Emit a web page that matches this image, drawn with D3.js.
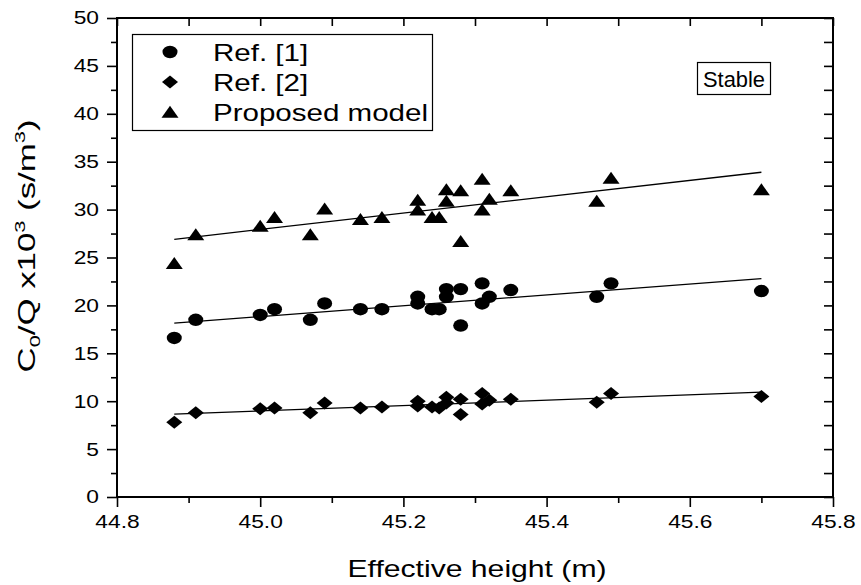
<!DOCTYPE html>
<html>
<head>
<meta charset="utf-8">
<script src="https://cdn.jsdelivr.net/npm/d3@7"></script>
<style>
    body { margin: 0; background: #fff; }
    text { font-family: "Liberation Sans", Arial, sans-serif; fill: #000; }
</style>
</head>
<body>
<div class="chart"></div>
<script>
// effective height (m), shared by the three series
const heights = [44.88, 44.91, 45.00, 45.02, 45.07, 45.09, 45.14, 45.17, 45.22, 45.22, 45.24, 45.25,
    45.26, 45.26, 45.28, 45.28, 45.31, 45.31, 45.32, 45.35, 45.47, 45.49, 45.70];
// C0/Q x10^3 (s/m^3)
const ref1 = [16.6, 18.5, 19.0, 19.6, 18.5, 20.2, 19.6, 19.6, 20.9, 20.2, 19.6, 19.6,
    21.7, 20.9, 21.7, 17.9, 22.3, 20.2, 20.9, 21.6, 20.9, 22.3, 21.5];
const ref2 = [7.8, 8.8, 9.2, 9.3, 8.8, 9.8, 9.3, 9.4, 10.0, 9.5, 9.4, 9.3,
    10.4, 9.8, 10.2, 8.6, 10.8, 9.7, 10.1, 10.2, 9.9, 10.8, 10.5];
const proposed = [24.4, 27.4, 28.3, 29.2, 27.4, 30.1, 29.0, 29.2, 31.0, 30.0, 29.2, 29.2,
    32.1, 30.9, 32.0, 26.7, 33.2, 30.0, 31.1, 32.0, 30.9, 33.3, 32.1];

// linear fit lines, end points
const fitX = [44.88, 45.70];
const fitRef1 = [18.15, 22.8];
const fitRef2 = [8.65, 10.95];
const fitProposed = [26.9, 33.9];

const seriesNames = ["Ref. [1]", "Ref. [2]", "Proposed model"];
const xTicks = [44.8, 45.0, 45.2, 45.4, 45.6, 45.8];
const xMinor = [44.9, 45.1, 45.3, 45.5, 45.7];
const yTicks = [0, 5, 10, 15, 20, 25, 30, 35, 40, 45, 50];
const yMinor = [2.5, 7.5, 12.5, 17.5, 22.5, 27.5, 32.5, 37.5, 42.5, 47.5];

const width = 861;
const height = 585;
const stretch = 1.23; // the lettering in the original is drawn wide

const x = d3.scaleLinear().domain([44.8, 45.8]).range([117, 833]);
const y = d3.scaleLinear().domain([0, 50]).range([497, 18]);

const svg = d3.select(".chart")
    .append("svg")
    .attr("width", width)
    .attr("height", height);

// markers, a bit wider than tall like the original
const shapes = {
    circle: "M-7.5,0A7.5,6.2 0 1,0 7.5,0A7.5,6.2 0 1,0 -7.5,0Z",
    diamond: "M-8,0L0,-6.5L8,0L0,6.5Z",
    triangle: "M-8.5,5.8L8.5,5.8L0,-6.2Z"
};

const series = [
    { name: seriesNames[0], values: ref1, fit: fitRef1, shape: "circle" },
    { name: seriesNames[1], values: ref2, fit: fitRef2, shape: "diamond" },
    { name: seriesNames[2], values: proposed, fit: fitProposed, shape: "triangle" }
];

// axes: outward ticks on left/bottom, mirrored ticks inside on top/right
const axisG = svg.append("g").attr("class", "axes");

axisG.append("g")
    .attr("transform", `translate(0,${y(0)})`)
    .call(d3.axisBottom(x).tickValues(xTicks).tickSize(10).tickPadding(8).tickFormat(d3.format(".1f")));
axisG.append("g")
    .attr("transform", `translate(0,${y(0)})`)
    .call(d3.axisBottom(x).tickValues(xMinor).tickSize(6).tickFormat(""));
axisG.append("g")
    .attr("transform", `translate(0,${y(50)})`)
    .call(d3.axisBottom(x).tickValues(xTicks.concat(xMinor)).tickSize(8).tickFormat(""));

axisG.append("g")
    .attr("transform", `translate(${x(44.8)},0)`)
    .call(d3.axisLeft(y).tickValues(yTicks).tickSize(10).tickPadding(8).tickFormat(d3.format("d")));
axisG.append("g")
    .attr("transform", `translate(${x(44.8)},0)`)
    .call(d3.axisLeft(y).tickValues(yMinor).tickSize(6).tickFormat(""));
axisG.append("g")
    .attr("transform", `translate(${x(45.8)},0)`)
    .call(d3.axisLeft(y).tickValues(yTicks.concat(yMinor)).tickSize(9).tickFormat(""));

axisG.selectAll(".domain").remove();
axisG.selectAll(".tick line").attr("stroke", "#000").attr("stroke-width", 1.6);
axisG.selectAll(".tick text")
    .attr("fill", "#000")
    .style("font-size", "18.5px")
    .style("font-family", '"Liberation Sans", Arial, sans-serif');

svg.append("rect")
    .attr("x", x(44.8))
    .attr("y", y(50))
    .attr("width", x(45.8) - x(44.8))
    .attr("height", y(0) - y(50))
    .attr("fill", "none")
    .attr("stroke", "#000")
    .attr("stroke-width", 2);

// fit lines
const line = d3.line().x(d => x(d[0])).y(d => y(d[1]));
svg.append("g").selectAll("path")
    .data(series)
    .enter().append("path")
    .attr("d", s => line(fitX.map((v, i) => [v, s.fit[i]])))
    .attr("fill", "none")
    .attr("stroke", "#000")
    .attr("stroke-width", 1.3);

// points
series.forEach(s => {
    svg.append("g").selectAll("path")
        .data(heights.map((h, i) => [h, s.values[i]]))
        .enter().append("path")
        .attr("transform", d => `translate(${x(d[0])},${y(d[1])})`)
        .attr("d", shapes[s.shape])
        .attr("fill", "#000");
});

// legend
const legend = svg.append("g").attr("class", "legend");
legend.append("rect")
    .attr("x", 132.5)
    .attr("y", 34.5)
    .attr("width", 300)
    .attr("height", 96)
    .attr("fill", "#fff")
    .attr("stroke", "#000")
    .attr("stroke-width", 1.2);

const item = legend.selectAll(".legend-item")
    .data(series)
    .enter().append("g")
    .attr("class", "legend-item")
    .attr("transform", (d, i) => `translate(170, ${[52, 82, 112][i]})`);

item.append("path")
    .attr("d", d => shapes[d.shape])
    .attr("fill", "#000");

item.append("text")
    .attr("x", 43)
    .attr("y", 9)
    .style("font-size", "24px")
    .text(d => d.name);

// "Stable" label
svg.append("rect")
    .attr("x", 697.5)
    .attr("y", 62.5)
    .attr("width", 73)
    .attr("height", 32)
    .attr("fill", "#fff")
    .attr("stroke", "#000")
    .attr("stroke-width", 1.2);
svg.append("text")
    .attr("x", 703)
    .attr("y", 87)
    .style("font-size", "22px")
    .text("Stable");

// axis titles
svg.append("text")
    .attr("x", 477)
    .attr("y", 577)
    .attr("text-anchor", "middle")
    .style("font-size", "24.5px")
    .text("Effective height (m)");

const yTitle = svg.append("text")
    .attr("class", "ytitle")
    .attr("transform", "translate(35,246) rotate(-90)")
    .attr("text-anchor", "middle")
    .style("font-size", "24px");
yTitle.append("tspan").text("C");
yTitle.append("tspan").attr("dy", 5).style("font-size", "15px").text("0");
yTitle.append("tspan").attr("dy", -5).text("/Q x10");
yTitle.append("tspan").attr("dy", -10).style("font-size", "15px").text("3");
yTitle.append("tspan").attr("dy", 10).text(" (s/m");
yTitle.append("tspan").attr("dy", -10).style("font-size", "15px").text("3");
yTitle.append("tspan").attr("dy", 10).text(")");

// widen the lettering
svg.selectAll("text").each(function () {
    const node = this;
    let w = node.getComputedTextLength() * stretch;
    if (node.classList.contains("ytitle")) w = 253;
    if (node.textContent === "Stable") w = 62;
    d3.select(node)
        .attr("textLength", w)
        .attr("lengthAdjust", "spacingAndGlyphs");
});
</script>
</body>
</html>
